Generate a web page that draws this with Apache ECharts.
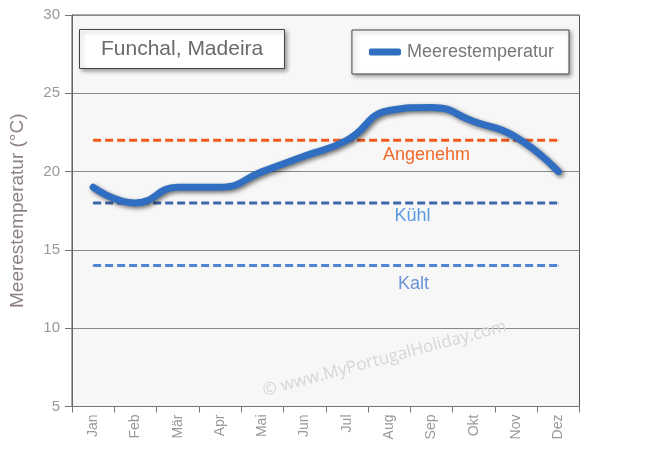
<!DOCTYPE html>
<html>
<head>
<meta charset="utf-8">
<script src="https://cdn.jsdelivr.net/npm/echarts@6/dist/echarts.min.js"></script>
<style>
  html, body { margin: 0; padding: 0; background: #fff; }
  #chart { width: 650px; height: 450px; }
</style>
</head>
<body>
<div id="chart"></div>
<script>
  // Monate und Meerestemperatur (°C)
  const months = ['Jan', 'Feb', 'Mär', 'Apr', 'Mai', 'Jun', 'Jul', 'Aug', 'Sep', 'Okt', 'Nov', 'Dez']
  const seaTemp = [19, 18, 19, 19, 20, 21, 22, 23.9, 24.1, 23.2, 22.2, 20]
  // Schwellen
  const angenehm = 22
  const kuehl = 18
  const kalt = 14
  const yTicks = [5, 10, 15, 20, 25, 30]

  const fontFam = 'Arial, "Liberation Sans", sans-serif'

  function thresholdSeries(name, value, color, labelColor, offset) {
    return {
      name: name,
      type: 'line',
      data: months.map((m, i) => ({
        value: value,
        label: i === 8 ? {
          show: true,
          position: 'bottom',
          distance: 1,
          offset: offset,
          formatter: name,
          color: labelColor,
          fontSize: 18,
          fontFamily: fontFam,
        } : { show: false },
      })),
      symbol: 'circle',
      symbolSize: 1,
      showSymbol: true,
      silent: true,
      itemStyle: { color: color },
      lineStyle: { color: color, width: 3, type: [8, 4] },
      z: 2,
    }
  }

  const chart = echarts.init(document.getElementById('chart'))
  chart.setOption({
    animation: false,
    title: {
      text: 'Funchal, Madeira',
      left: 79,
      top: 29,
      padding: [10, 22, 9, 22],
      backgroundColor: '#fff',
      borderColor: '#444',
      borderWidth: 1,
      shadowColor: 'rgba(0,0,0,0.35)',
      shadowBlur: 4,
      shadowOffsetX: 2,
      shadowOffsetY: 2,
      textStyle: { color: '#6a6a6a', fontSize: 21, fontWeight: 'normal', fontFamily: fontFam },
    },
    legend: {
      data: ['Meerestemperatur'],
      right: 81,
      top: 30,
      padding: [13, 15, 13, 17],
      backgroundColor: '#fff',
      borderColor: '#444',
      borderWidth: 1,
      shadowColor: 'rgba(0,0,0,0.35)',
      shadowBlur: 4,
      shadowOffsetX: 2,
      shadowOffsetY: 2,
      itemWidth: 32,
      itemHeight: 7,
      itemGap: 6,
      icon: 'roundRect',
      textStyle: { color: '#777', fontSize: 18, fontFamily: fontFam, padding: [0, 0, 0, 1] },
    },
    grid: {
      left: 69.5,
      right: 70.5,
      top: 15,
      bottom: 43.5,
      show: true,
      backgroundColor: '#f7f7f7',
      borderColor: '#555',
      borderWidth: 1,
    },
    xAxis: {
      type: 'category',
      data: months,
      boundaryGap: true,
      axisLine: { lineStyle: { color: '#777' } },
      axisTick: { show: true, alignWithLabel: false, length: 6, lineStyle: { color: '#777' } },
      axisLabel: { rotate: 90, color: '#999', fontSize: 14, fontFamily: fontFam, margin: 8 },
      splitLine: { show: false },
    },
    yAxis: {
      type: 'value',
      min: yTicks[0],
      max: yTicks[yTicks.length - 1],
      interval: 5,
      name: 'Meerestemperatur (°C)',
      nameLocation: 'middle',
      nameGap: 45,
      nameTextStyle: { color: '#8c8080', fontSize: 19, fontFamily: fontFam },
      axisLine: { show: true, lineStyle: { color: '#666' } },
      axisTick: { show: true, length: 7, lineStyle: { color: '#777' } },
      axisLabel: { color: '#999', fontSize: 15, fontFamily: fontFam, margin: 12 },
      splitLine: { show: true, lineStyle: { color: '#888', width: 1 } },
    },
    graphic: [{
      type: 'text',
      left: 261,
      top: 318,
      rotation: 15 * Math.PI / 180,
      silent: true,
      style: {
        text: '© www.MyPortugalHoliday.com',
        fill: '#d6d6d6',
        fontSize: 17,
        fontFamily: '"Open Sans", sans-serif',
      },
      z: 1,
    }],
    series: [
      thresholdSeries('Angenehm', angenehm, '#f05a1e', '#f26a2a', [-5, 4]),
      thresholdSeries('Kühl', kuehl, '#3d67ab', '#5a9be0', [-19, 3]),
      thresholdSeries('Kalt', kalt, '#4f87d2', '#6a93d8', [-18, 8]),
      {
        name: 'Meerestemperatur',
        type: 'line',
        data: seaTemp,
        smooth: 0.5,
        symbol: 'none',
        color: '#2f6ec0',
        lineStyle: {
          color: '#2f6ec0',
          width: 7,
          cap: 'round',
          shadowColor: 'rgba(0,0,0,0.55)',
          shadowBlur: 4,
          shadowOffsetX: 2,
          shadowOffsetY: 2,
        },
        z: 5,
      },
    ],
  })
</script>
</body>
</html>
